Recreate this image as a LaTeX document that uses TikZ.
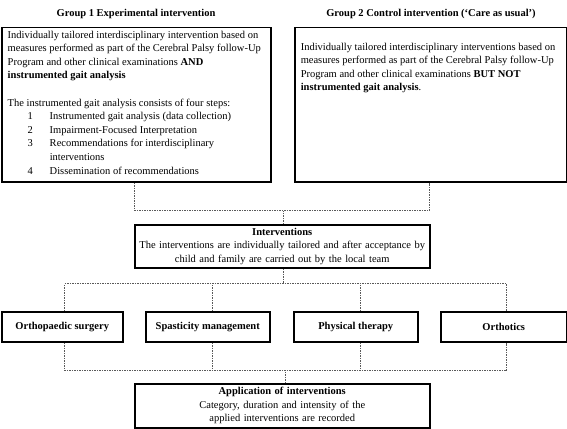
\documentclass[tikz,border=0pt]{standalone}
\usepackage{fontspec}
\setmainfont{Liberation Serif}
\usetikzlibrary{calc}
\tikzset{
  box/.style={draw, line width=1.5pt, inner ysep=0pt, inner xsep=6pt, anchor=north west},
  smallbox/.style={draw, line width=1.5pt, inner sep=0pt, anchor=north west, align=center, font=\fontsize{10.5}{13.6}\selectfont\bfseries},
  midbox/.style={draw, line width=1.5pt, inner sep=0pt, anchor=north west, align=center},
  title/.style={font=\fontsize{10.5}{13.6}\selectfont\bfseries, inner sep=0pt},
  conn/.style={draw=black!65, dash pattern=on 1.5pt off 1pt, line width=0.6pt}
}
\begin{document}
\begin{tikzpicture}[x=1pt,y=-1pt,font=\fontsize{10.5}{13.6}\selectfont]
\useasboundingbox (0,0) rectangle (567,428);

\node[title] (t1) at (136,14) {Group 1 Experimental intervention};
\node[title] (t2) at (431,14) {Group 2 Control intervention (‘Care as usual’)};

\node[box, minimum width=269pt, minimum height=154pt] (g1) at (1,27)
 {\parbox[c][154pt][t]{257pt}{\raggedright\vspace*{3pt}%
 Individually tailored interdisciplinary intervention based on\\
 measures performed as part of the Cerebral Palsy follow-Up\\
 Program and other clinical examinations \textbf{AND}\\
 \textbf{instrumented gait analysis}\\[13.6pt]
 The instrumented gait analysis consists of four steps:\\
 \hspace*{20pt}\makebox[22pt][l]{1}Instrumented gait analysis (data collection)\\
 \hspace*{20pt}\makebox[22pt][l]{2}Impairment-Focused Interpretation\\
 \hspace*{20pt}\makebox[22pt][l]{3}Recommendations for interdisciplinary\\
 \hspace*{42pt}interventions\\
 \hspace*{20pt}\makebox[22pt][l]{4}Dissemination of recommendations}};

\node[box, minimum width=272pt, minimum height=154pt] (g2) at (294,27)
 {\parbox[c][154pt][t]{260pt}{\raggedright\vspace*{15pt}%
 Individually tailored interdisciplinary interventions based on\\
 measures performed as part of the Cerebral Palsy follow-Up\\
 Program and other clinical examinations \textbf{BUT NOT}\\
 \textbf{instrumented gait analysis}.}};

\node[midbox, minimum width=295pt, minimum height=43pt, text width=290pt] (iv) at (134,224)
 {\textbf{Interventions}\\
 The interventions are individually tailored and after acceptance by\\
 child and family are carried out by the local team};

\node[smallbox, minimum width=121pt, minimum height=30pt] (os) at (1,311) {Orthopaedic surgery};
\node[smallbox, minimum width=124pt, minimum height=30pt] (sp) at (145,311) {Spasticity management};
\node[smallbox, minimum width=124pt, minimum height=30pt] (pt) at (293,311) {Physical therapy};
\node[smallbox, minimum width=126pt, minimum height=30pt] (ot) at (440,311) {Orthotics};

\node[midbox, minimum width=295pt, minimum height=44pt, text width=290pt] (ap) at (134,383)
 {\textbf{Application of interventions}\\
 Category, duration and intensity of the\\
 applied interventions are recorded};

% top connectors
\draw[conn] ([xshift=-1.5pt]g1.south) -- ++(0,28) coordinate (j1) -| ([xshift=-1.5pt]g2.south);
\draw[conn] ([xshift=1.5pt]iv.north) -- ([xshift=1.5pt]iv.north |- j1);

% interventions to categories
\draw[conn] ([xshift=1.5pt]iv.south) -- ++(0,15) coordinate (j2);
\draw[conn] ([xshift=2.5pt]os.north) -- ([xshift=2.5pt]os.north |- j2) -- ([xshift=3pt]ot.north |- j2) -- ([xshift=3pt]ot.north);
\draw[conn] ([xshift=5pt]sp.north) -- ([xshift=5pt]sp.north |- j2);
\draw[conn] ([xshift=5pt]pt.north) -- ([xshift=5pt]pt.north |- j2);

% categories to application
\draw[conn] ([xshift=2.5pt]os.south) -- ++(0,28) coordinate (j3) -- ([xshift=3pt]ot.south |- j3) -- ([xshift=3pt]ot.south);
\draw[conn] ([xshift=5pt]sp.south) -- ([xshift=5pt]sp.south |- j3);
\draw[conn] ([xshift=5pt]pt.south) -- ([xshift=5pt]pt.south |- j3);
\draw[conn] ([xshift=3.5pt]ap.north) -- ([xshift=3.5pt]ap.north |- j3);
\end{tikzpicture}
\end{document}
